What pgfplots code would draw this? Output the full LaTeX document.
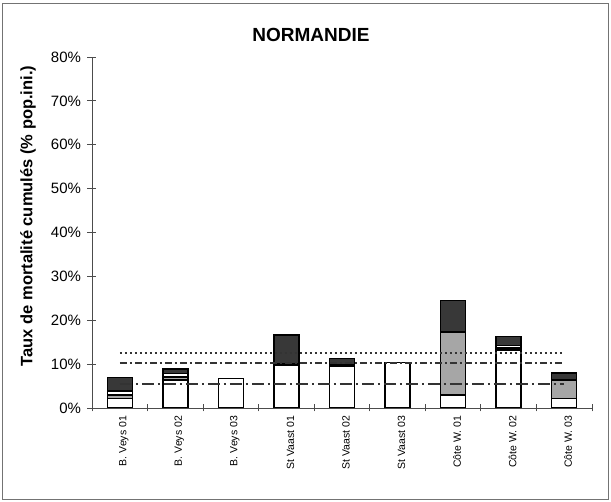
\documentclass[border=0pt]{standalone}
\usepackage{pgfplots}
\pgfplotsset{compat=1.18}
\usepackage{fontspec}
\setmainfont{Liberation Sans}
\begin{document}
\begin{tikzpicture}[x=1pt,y=1pt]
\useasboundingbox (-92,-94) rectangle (519,408);
\draw[black!55, line width=0.8pt] (-90,-91) rectangle (516,405);
\begin{axis}[
  at={(0,0)}, anchor=south west,
  scale only axis, width=500pt, height=351pt,
  xmin=-0.5, xmax=8.5, ymin=0, ymax=80,
  ybar stacked, bar width=0.45,
  axis x line*=bottom, axis y line*=left,
  axis line style={black!70, line width=0.8pt},
  tick align=center,
  xtick={0,...,8},
  xticklabels={B. Veys 01, B. Veys 02, B. Veys 03, St Vaast 01, St Vaast 02, St Vaast 03, Côte W. 01, Côte W. 02, Côte W. 03},
  x tick label style={rotate=90, anchor=east, yshift=-4pt, font=\fontsize{10.5}{12}\selectfont},
  major x tick style={draw=none},
  minor xtick={-0.5,0.5,...,8.5},
  minor tick length=7pt,
  minor x tick style={black!70, line width=0.8pt},
  ytick={0,10,...,80},
  major tick length=9pt,
  y tick style={black!70, line width=0.8pt},
  /pgf/number format/assume math mode=true,
  yticklabel={\pgfmathprintnumber{\tick}\%},
  y tick label style={xshift=-3pt, font=\fontsize{15}{18}\selectfont},
]
\addplot[fill=white, draw=black, line width=1.4pt] coordinates {(0,2.2) (1,6.4) (2,6.7) (3,9.8) (4,9.6) (5,10.4) (6,3.0) (7,13.2) (8,2.2)};
\addplot[fill=black!35, draw=black, line width=1.4pt] coordinates {(0,0.8) (1,0.7) (2,0) (3,0) (4,0) (5,0) (6,14.3) (7,0.5) (8,4.2)};
\addplot[fill=white, draw=black, line width=1.4pt] coordinates {(0,0.9) (1,0.8) (2,0) (3,0.3) (4,0.3) (5,0) (6,0) (7,0.6) (8,0)};
\addplot[fill=black!78, draw=black, line width=1.4pt] coordinates {(0,3.1) (1,1.0) (2,0) (3,6.5) (4,1.4) (5,0) (6,7.2) (7,2.0) (8,1.6)};
\end{axis}
\begin{axis}[
  at={(0,0)}, anchor=south west,
  scale only axis, width=500pt, height=351pt,
  xmin=-0.5, xmax=8.5, ymin=0, ymax=80,
  axis lines=none, xtick=\empty, ytick=\empty,
]
\addplot[black!80, line width=1.6pt, dash pattern=on 2pt off 3pt] coordinates {(0,12.5) (8,12.5)};
\addplot[black!80, line width=1.6pt, dash pattern=on 7pt off 3pt on 2pt off 3pt] coordinates {(0,10.3) (8,10.3)};
\addplot[black!80, line width=1.6pt, dash pattern=on 12pt off 4pt on 2pt off 4pt] coordinates {(0,5.5) (8,5.5)};
\end{axis}
\node[font=\fontsize{19}{22}\selectfont\bfseries] at (219,373) {NORMANDIE};
\node[rotate=90, font=\fontsize{16.5}{20}\selectfont\bfseries] at (-64,192) {Taux de mortalité cumulés (\% pop.ini.)};
\end{tikzpicture}
\end{document}
